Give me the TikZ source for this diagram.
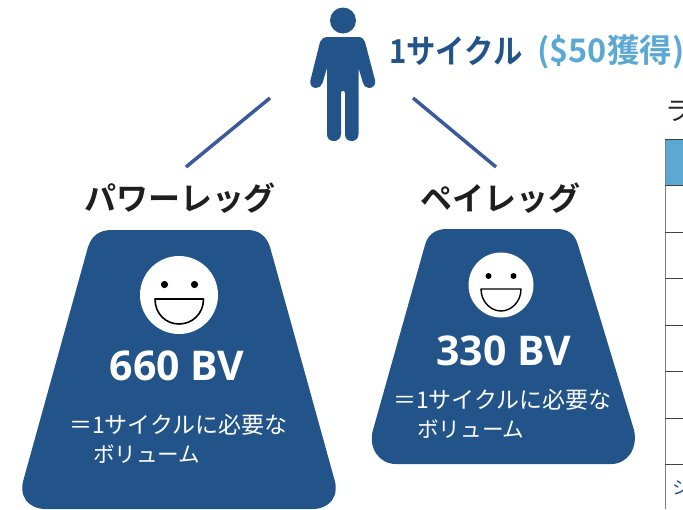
\documentclass[tikz,border=0pt]{standalone}
\usepackage{fontspec}
\setmainfont{Open Sans}
\newfontfamily\cjk{Noto Sans CJK JP}
\newfontfamily\cjkb{Noto Sans CJK JP Bold}
\definecolor{navy}{HTML}{22548A}
\definecolor{sky}{HTML}{5BA9D3}
\definecolor{linkblue}{HTML}{3A5A9C}
\tikzset{
  panel/.style={fill=navy,draw=none},
  link/.style={draw=linkblue,line width=3.5pt},
  head/.style={inner sep=0pt,text=black!88,font=\cjkb\fontsize{32}{32}\selectfont},
  bv/.style={inner sep=0pt,text=white,font=\bfseries\fontsize{41}{41}\selectfont},
  note/.style={inner sep=0pt,text=white,align=left,font=\cjk\fontsize{23}{29}\selectfont},
  rowline/.style={draw=black!75,line width=1pt},
  face/.style={circle,fill=white,inner sep=0pt},
}
\newcommand{\secondline}[1]{\hspace*{24pt}{\fontsize{21.6}{29}\selectfont #1}}
\begin{document}
\begin{tikzpicture}[x=1pt,y=-1pt,line join=round]
\useasboundingbox (0,0) rectangle (683,509);
\clip (0,0) rectangle (683,509);
% person
\fill[navy] (343,20.5) circle (13);
\fill[navy] (328,37) -- (358,37) .. controls (362,37) and (364,39) .. (365,42)
  -- (375,80) .. controls (376,85) and (373,88) .. (369,88) .. controls (366,88) and (364,86) .. (363,83)
  -- (358.5,68) -- (358.5,134) .. controls (358.5,139) and (355,141) .. (352,141) .. controls (348,141) and (345,139) .. (345,134)
  -- (345,93) .. controls (345,90) and (341,90) .. (341,93)
  -- (341,134) .. controls (341,139) and (337,141) .. (334,141) .. controls (330,141) and (327,139) .. (327,134)
  -- (327,68) -- (322.5,83) .. controls (321.5,86) and (319,88) .. (316,88) .. controls (312,88) and (309.5,85) .. (310.5,80)
  -- (320,42) .. controls (321,39) and (324,37) .. (328,37) -- cycle;
\coordinate (personL) at (270,98);
\coordinate (personR) at (413,98);
\coordinate (powerTop) at (186,167);
\coordinate (payTop) at (496,167);
\draw[link] (personL) -- (powerTop);
\draw[link] (personR) -- (payTop);
\node[anchor=west,inner sep=0pt,text=navy,font=\cjkb\fontsize{33}{33}\selectfont] (cycle) at (389,51) {\scalebox{0.89}[1]{1サイクル}};
\node[anchor=west,inner sep=0pt,text=sky,font=\cjkb\fontsize{32.5}{33}\selectfont] (earn) at (537,52) {(\$50獲得)};
\node[head] (power) at (180,198) {パワーレッグ};
\node[head] (pay) at (500,198) {ペイレッグ};
% panels
\fill[panel] (112,230) -- (247,230) .. controls (258,230) and (266,235) .. (270,247)
  -- (334,478) .. controls (340,496) and (330,509) .. (312,509) -- (46,509)
  .. controls (28,509) and (18,496) .. (24,478) -- (88,247) .. controls (92,235) and (100,230) .. (112,230) -- cycle;
\fill[panel] (447,229) -- (557,229) .. controls (568,229) and (575,234) .. (578,245)
  -- (634,430) .. controls (638,448) and (628,464) .. (611,464) -- (396,464)
  .. controls (379,464) and (368,448) .. (373,430) -- (425,245) .. controls (428,234) and (436,229) .. (447,229) -- cycle;
% left face
\node[face,minimum size=78pt] (faceL) at (179,295) {};
\fill[black] (164.5,284.5) circle (3.6) (194.5,284.5) circle (3.6);
\draw[black,fill=white,line width=1.6pt] (155,299) -- (203.5,299) .. controls (203.5,314) and (192,324) .. (179,324) .. controls (166,324) and (155,314) .. (155,299) -- cycle;
% right face
\node[face,minimum size=65pt] (faceR) at (501,285) {};
\fill[black] (488.5,276) circle (3) (513.5,276) circle (3);
\draw[black,fill=white,line width=1.4pt] (481,289) -- (521,289) .. controls (521,302) and (511,311) .. (501,311) .. controls (491,311) and (481,302) .. (481,289) -- cycle;
\node[bv] (bvL) at (177,366) {660 BV};
\node[bv] (bvR) at (503.5,351) {330 BV};
\node[note,anchor=north west] (noteL) at (69,414) {＝1サイクルに必要な\\\secondline{ボリューム}};
\node[note,anchor=north west] (noteR) at (393,389) {＝1サイクルに必要な\\\secondline{ボリューム}};
% table
\fill[sky] (665,139) rectangle (683,185);
\draw[draw=black!50,line width=1.5pt] (665.5,139) -- (665.5,509);
\draw[rowline] (665,139) -- (683,139);
\foreach \y in {185,232,278,325,371,418,464} \draw[rowline] (665,\y) -- (683,\y);
\node[anchor=west,inner sep=0pt,text=black!85,font=\cjk\fontsize{26}{26}\selectfont] (tabletitle) at (665,111) {ラ};
\node[anchor=west,inner sep=0pt,text=navy,font=\cjk\fontsize{18}{18}\selectfont] (tablenote) at (672,488) {シ};
\end{tikzpicture}
\end{document}
